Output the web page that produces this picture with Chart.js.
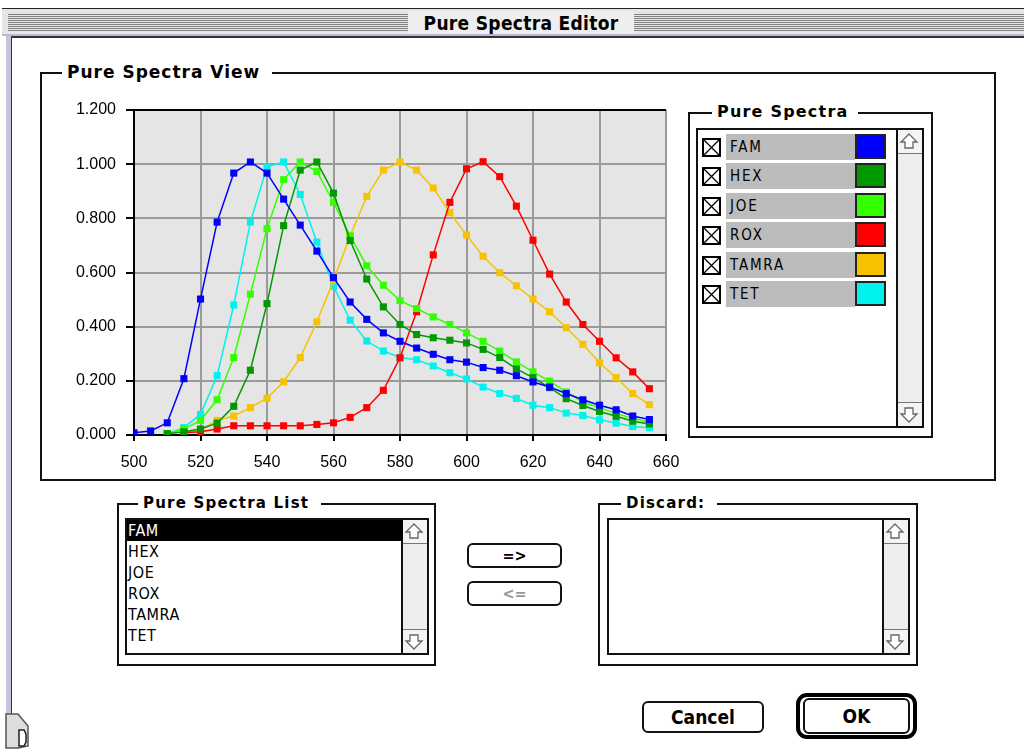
<!DOCTYPE html>
<html>
<head>
<meta charset="utf-8">
<title>Pure Spectra Editor</title>
<script src="https://cdn.jsdelivr.net/npm/chart.js@4.4.1/dist/chart.umd.min.js"></script>
<style>
  body { margin: 0; width: 1024px; height: 749px; background: #fff; position: relative; overflow: hidden;
         font-family: "DejaVu Sans Condensed", "DejaVu Sans", sans-serif; }
  .abs { position: absolute; }
  .grp { position: absolute; border: 2px solid #111; box-sizing: border-box; }
  .glabel { position: absolute; background: #fff; font: bold 16px "DejaVu Sans", sans-serif; letter-spacing: 1.2px;
            padding: 0 5px; line-height: 18px; color: #000; }
  .list { position: absolute; border: 2px solid #111; box-sizing: border-box; background: #fff; }
  .scroll { position: absolute; top: 0; right: 0; bottom: 0; width: 24px; border-left: 2px solid #111; background: #eee; }
  .scroll .up { position: absolute; top: 0; left: 0; right: 0; height: 23px; border-bottom: 1px solid #777; background: #f4f4f4; }
  .scroll .dn { position: absolute; bottom: 0; left: 0; right: 0; height: 23px; border-top: 1px solid #777; background: #f4f4f4; }
  .row { position: absolute; left: 0; height: 21px; line-height: 21px; font-size: 16px; letter-spacing: 0.6px; padding-left: 1px; }
  .btn { position: absolute; border: 2px solid #111; border-radius: 6px; box-sizing: border-box; background: #fff;
         text-align: center; font: bold 16px "DejaVu Sans Condensed", sans-serif; }
  .spec { position: absolute; left: 4px; height: 26px; width: 186px; }
  .spec .cb { position: absolute; left: 0; top: 4px; }
  .spec .nm { position: absolute; left: 24px; top: 0; width: 129px; height: 26px; background: #bcbcbc;
              font-size: 15px; letter-spacing: 1.8px; line-height: 26px; padding-left: 4px; box-sizing: border-box; }
  .spec .sw { position: absolute; left: 153px; top: 0; width: 31px; height: 25px; border: 2px solid #222; box-sizing: border-box; }
</style>
</head>
<body>

<!-- window frame -->
<div class="abs" style="left:2px;top:8px;width:1022px;height:1px;background:#222"></div>
<div class="abs" style="left:2px;top:9px;width:1022px;height:25px;background:#e6e6e6"></div>
<div class="abs" style="left:8px;top:14px;width:1016px;height:17px;
     background:repeating-linear-gradient(#808080 0 1px,#e6e6e6 1px 2px)"></div>
<div class="abs" style="left:408px;top:11px;width:226px;height:24px;background:#eee;text-align:center;
     font:bold 19px 'DejaVu Sans Condensed',sans-serif;line-height:24px;letter-spacing:0.3px">Pure Spectra Editor</div>
<div class="abs" style="left:2px;top:34px;width:1022px;height:2px;background:#b8b8d8"></div>
<div class="abs" style="left:10px;top:36px;width:1014px;height:2px;background:#333"></div>
<div class="abs" style="left:6px;top:36px;width:5px;height:680px;background:#c4c4dc"></div>
<div class="abs" style="left:11px;top:36px;width:1px;height:680px;background:#333"></div>
<svg class="abs" style="left:4px;top:712px" width="30" height="37">
  <polygon points="2,2 14,2 24,14 24,34 14,36 2,36" fill="#ddd" stroke="#555" stroke-width="1.5"/>
  <path d="M15,18 L20,18 L22,22 L22,30 L20,34 L15,34 Z" fill="#fff" stroke="#222" stroke-width="1.5"/>
</svg>

<!-- Pure Spectra View -->
<div class="grp" style="left:40px;top:72px;width:956px;height:409px"></div>
<div class="glabel" style="left:62px;top:63px;padding-right:12px;letter-spacing:1px;font-size:17px">Pure Spectra View</div>
<canvas id="chart" class="abs" style="left:60px;top:100px" width="620" height="375"></canvas>

<!-- Pure Spectra panel -->
<div class="grp" style="left:688px;top:112px;width:245px;height:326px"></div>
<div class="glabel" style="left:712px;top:103px;padding-right:10px">Pure Spectra</div>
<div class="list" id="specList" style="left:696px;top:128px;width:228px;height:300px">
  <div class="scroll"><div class="up"></div><div class="dn"></div></div>
</div>

<!-- Pure Spectra List -->
<div class="grp" style="left:117px;top:503px;width:319px;height:163px"></div>
<div class="glabel" style="left:138px;top:494px;padding-right:12px;font-size:15px">Pure Spectra List</div>
<div class="list" id="nameList" style="left:125px;top:518px;width:304px;height:137px">
  <div class="scroll"><div class="up"></div><div class="dn"></div></div>
</div>

<div class="btn" style="left:467px;top:543px;width:95px;height:25px;line-height:21px">=&gt;</div>
<div class="btn" style="left:467px;top:581px;width:95px;height:25px;line-height:21px;color:#999">&lt;=</div>

<!-- Discard -->
<div class="grp" style="left:598px;top:503px;width:320px;height:163px"></div>
<div class="glabel" style="left:621px;top:494px;padding-right:12px;font-size:15px">Discard:</div>
<div class="list" style="left:607px;top:518px;width:303px;height:137px">
  <div class="scroll"><div class="up"></div><div class="dn"></div></div>
</div>

<!-- dialog buttons -->
<div class="btn" style="left:642px;top:701px;width:122px;height:32px;line-height:28px;font-size:19px">Cancel</div>
<div class="abs" style="left:796px;top:693px;width:121px;height:46px;border:4px solid #000;border-radius:11px;box-sizing:border-box"></div>
<div class="btn" style="left:803px;top:698px;width:107px;height:36px;line-height:32px;font-size:19px">OK</div>

<script>
const wavelengths = [500, 505, 510, 515, 520, 525, 530, 535, 540, 545, 550, 555, 560, 565, 570, 575,
                     580, 585, 590, 595, 600, 605, 610, 615, 620, 625, 630, 635, 640, 645, 650, 655];

const famValues = [0.008, 0.015, 0.045, 0.208, 0.502, 0.786, 0.967, 1.008, 0.967, 0.871, 0.775, 0.679, 0.581, 0.491, 0.427, 0.377,
                   0.346, 0.321, 0.298, 0.278, 0.269, 0.249, 0.239, 0.219, 0.196, 0.177, 0.153, 0.130, 0.110, 0.093, 0.070, 0.057];
const hexValues = [null, null, 0.005, 0.012, 0.022, 0.044, 0.106, 0.239, 0.485, 0.773, 0.978, 1.008, 0.893, 0.718, 0.576, 0.473,
                   0.408, 0.371, 0.359, 0.350, 0.340, 0.316, 0.286, 0.244, 0.212, 0.175, 0.134, 0.109, 0.087, 0.069, 0.051, 0.041];
const joeValues = [null, null, 0.005, 0.022, 0.054, 0.130, 0.286, 0.520, 0.762, 0.943, 1.008, 0.973, 0.859, 0.735, 0.625, 0.553,
                   0.496, 0.467, 0.436, 0.408, 0.377, 0.346, 0.310, 0.270, 0.233, 0.199, 0.159, 0.121, 0.101, 0.079, 0.062, 0.047];
const roxValues = [null, null, null, 0.008, 0.012, 0.022, 0.034, 0.034, 0.034, 0.034, 0.034, 0.039, 0.045, 0.065, 0.101, 0.165,
                   0.285, 0.455, 0.665, 0.859, 0.983, 1.009, 0.954, 0.845, 0.719, 0.594, 0.491, 0.408, 0.346, 0.285, 0.233, 0.171];
const tamraValues = [null, null, null, 0.008, 0.020, 0.054, 0.070, 0.101, 0.136, 0.196, 0.286, 0.418, 0.570, 0.736, 0.881, 0.978,
                     1.008, 0.978, 0.912, 0.821, 0.738, 0.660, 0.599, 0.551, 0.502, 0.455, 0.396, 0.335, 0.267, 0.212, 0.153, 0.112];
const tetValues = [null, null, 0.005, 0.027, 0.076, 0.219, 0.480, 0.786, 0.990, 1.008, 0.888, 0.712, 0.549, 0.424, 0.347, 0.310,
                   0.286, 0.278, 0.255, 0.230, 0.207, 0.177, 0.153, 0.135, 0.110, 0.101, 0.081, 0.072, 0.056, 0.044, 0.031, 0.027];

const dyeNames = ['FAM', 'HEX', 'JOE', 'ROX', 'TAMRA', 'TET'];
const dyeColors = ['#0000ff', '#009900', '#33ff00', '#ff0000', '#f7c300', '#00f2ec'];
const dyeValues = [famValues, hexValues, joeValues, roxValues, tamraValues, tetValues];

const xTicks = [500, 520, 540, 560, 580, 600, 620, 640, 660];
const yTicks = [0, 0.2, 0.4, 0.6, 0.8, 1.0, 1.2];

// side panels: checkbox + name + colour swatch, and the plain name list
const checkSvg = '<svg width="19" height="19"><rect x="1" y="1" width="17" height="17" fill="#fff" stroke="#000" stroke-width="2"/>' +
                 '<path d="M2,2 L17,17 M17,2 L2,17" stroke="#000" stroke-width="1.3"/></svg>';
const specList = document.getElementById('specList');
const nameList = document.getElementById('nameList');
dyeNames.forEach((name, i) => {
  const row = document.createElement('div');
  row.className = 'spec';
  row.style.top = (4 + i * 29.4) + 'px';
  row.innerHTML = '<div class="cb">' + checkSvg + '</div><div class="nm">' + name + '</div>' +
                  '<div class="sw" style="background:' + dyeColors[i] + '"></div>';
  specList.appendChild(row);

  const item = document.createElement('div');
  item.className = 'row';
  item.style.top = (i * 21) + 'px';
  item.style.width = '275px';
  item.textContent = name;
  if (i === 0) { item.style.background = '#000'; item.style.color = '#fff'; }
  nameList.appendChild(item);
});

// scroll arrows
const upArrow = '<svg width="22" height="22"><path d="M11,4 L19,12 L15,12 L15,18 L7,18 L7,12 L3,12 Z" fill="#fff" stroke="#666" stroke-width="1.3"/></svg>';
const dnArrow = '<svg width="22" height="22"><path d="M11,19 L19,11 L15,11 L15,5 L7,5 L7,11 L3,11 Z" fill="#fff" stroke="#666" stroke-width="1.3"/></svg>';
document.querySelectorAll('.scroll .up').forEach(el => el.innerHTML = upArrow);
document.querySelectorAll('.scroll .dn').forEach(el => el.innerHTML = dnArrow);

const plotBackground = {
  id: 'plotBackground',
  beforeDraw(chart) {
    const { ctx, chartArea } = chart;
    ctx.save();
    ctx.fillStyle = '#e5e5e5';
    ctx.fillRect(chartArea.left, chartArea.top, chartArea.right - chartArea.left, chartArea.bottom - chartArea.top);
    ctx.restore();
  }
};

const datasets = dyeNames.map((name, i) => ({
  label: name,
  data: wavelengths.map((w, j) => ({ x: w, y: dyeValues[i][j] })).filter(p => p.y !== null),
  borderColor: dyeColors[i],
  backgroundColor: dyeColors[i],
  borderWidth: 1.5,
  pointStyle: 'rect',
  pointRadius: 5,
  pointBorderWidth: 0,
  tension: 0,
}));

new Chart(document.getElementById('chart'), {
  type: 'line',
  data: { datasets },
  options: {
    responsive: false,
    animation: false,
    layout: { padding: { top: 10, right: 14, left: 0, bottom: 0 } },
    plugins: { legend: { display: false }, tooltip: { enabled: false } },
    scales: {
      x: {
        type: 'linear',
        min: 500,
        max: 660,
        afterFit: (scale) => { scale.height = 40; scale.paddingLeft = 0; scale.paddingRight = 0; },
        afterBuildTicks: (scale) => { scale.ticks = xTicks.map(v => ({ value: v })); },
        ticks: { color: '#000', padding: 12, maxRotation: 0, font: { family: 'Liberation Sans', size: 16 } },
        grid: { color: (c) => (c.tick && c.tick.value === 500 ? '#000' : '#9a9a9a'), lineWidth: 2, tickLength: 6, tickColor: '#000', tickWidth: 2 },
        border: { color: '#000', width: 2 },
      },
      y: {
        min: 0,
        max: 1.2,
        afterFit: (scale) => { scale.width = 74; scale.paddingTop = 0; scale.paddingBottom = 0; },
        afterBuildTicks: (scale) => { scale.ticks = yTicks.map(v => ({ value: v })); },
        ticks: { color: '#000', padding: 10, callback: (v) => Number(v).toFixed(3), font: { family: 'Liberation Sans', size: 16 } },
        grid: { color: (c) => (c.tick && (c.tick.value === 1.2 || c.tick.value === 0) ? '#000' : '#9a9a9a'), lineWidth: 2, tickLength: 8, tickColor: '#000', tickWidth: 2 },
        border: { color: '#000', width: 2 },
      },
    },
  },
  plugins: [plotBackground],
});
</script>
</body>
</html>
